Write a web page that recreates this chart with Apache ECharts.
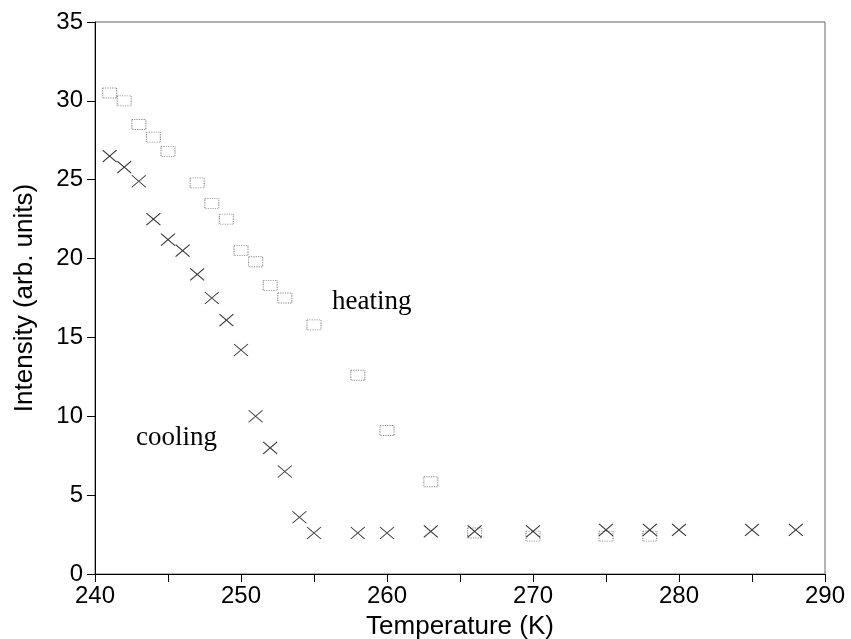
<!DOCTYPE html>
<html>
<head>
<meta charset="utf-8">
<script src="https://cdn.jsdelivr.net/npm/echarts@6/dist/echarts.min.js"></script>
<style>
    html, body { margin: 0; padding: 0; background: #fff; }
    #chart { width: 851px; height: 639px; }
</style>
</head>
<body>
<div id="chart"></div>
<script>
// heating run (squares)
var heatingT = [241, 242, 243, 244, 245, 247, 248, 249, 250, 251, 252, 253, 255, 258, 260, 263, 266, 270, 275, 278];
var heatingI = [30.5, 30.0, 28.5, 27.7, 26.8, 24.8, 23.5, 22.5, 20.5, 19.8, 18.3, 17.5, 15.8, 12.6, 9.1, 5.85, 2.6, 2.4, 2.4, 2.4];

// cooling run (crosses)
var coolingT = [241, 242, 243, 244, 245, 246, 247, 248, 249, 250, 251, 252, 253, 254, 255, 258, 260, 263, 266, 270, 275, 278, 280, 285, 288];
var coolingI = [26.5, 25.8, 24.9, 22.5, 21.2, 20.5, 19.0, 17.5, 16.1, 14.2, 10.0, 8.0, 6.5, 3.6, 2.6, 2.6, 2.6, 2.7, 2.7, 2.7, 2.8, 2.8, 2.8, 2.8, 2.8];

function pairs(xs, ys) {
    var out = [];
    for (var i = 0; i < xs.length; i++) {
        out.push([xs[i], ys[i]]);
    }
    return out;
}

var chart = echarts.init(document.getElementById('chart'));

var sansFont = '"Liberation Sans", Arial, sans-serif';
var serifFont = '"Liberation Serif", "Times New Roman", serif';

var option = {
    backgroundColor: '#fff',
    animation: false,
    grid: {
        left: 95,
        right: 26,
        top: 22,
        bottom: 65,
        outerBoundsMode: 'none',
        show: true,
        borderColor: '#666',
        borderWidth: 1
    },
    xAxis: {
        type: 'value',
        min: 240,
        max: 290,
        interval: 5,
        name: 'Temperature (K)',
        nameLocation: 'middle',
        nameGap: 40,
        nameTextStyle: {fontFamily: sansFont, fontSize: 26, color: '#000'},
        axisLine: {lineStyle: {color: '#000', width: 1}},
        axisTick: {show: true, inside: false, length: 8, lineStyle: {color: '#000'}},
        axisLabel: {
            fontFamily: sansFont,
            fontSize: 24,
            color: '#000',
            margin: 10,
            formatter: function (v) {
                return v % 10 === 0 ? String(v) : '';
            }
        },
        splitLine: {show: false}
    },
    yAxis: {
        type: 'value',
        min: 0,
        max: 35,
        interval: 5,
        name: 'Intensity (arb. units)',
        nameLocation: 'middle',
        nameGap: 57,
        nameTextStyle: {fontFamily: sansFont, fontSize: 26, color: '#000'},
        axisLine: {show: true, lineStyle: {color: '#000', width: 1}},
        axisTick: {show: true, inside: false, length: 8, lineStyle: {color: '#000'}},
        axisLabel: {fontFamily: sansFont, fontSize: 24, color: '#000', margin: 12},
        splitLine: {show: false}
    },
    graphic: [
        {
            type: 'text',
            left: 332,
            top: 288,
            style: {text: 'heating', font: '27px ' + serifFont, fill: '#000'}
        },
        {
            type: 'text',
            left: 136,
            top: 424,
            style: {text: 'cooling', font: '27px ' + serifFont, fill: '#000'}
        }
    ],
    series: [
        {
            name: 'heating',
            type: 'scatter',
            data: pairs(heatingT, heatingI),
            symbol: 'rect',
            symbolSize: [14, 10],
            itemStyle: {color: 'rgba(255,255,255,0)', borderColor: '#666', borderWidth: 1, borderType: 'dotted'}
        },
        {
            name: 'cooling',
            type: 'scatter',
            data: pairs(coolingT, coolingI),
            symbol: 'path://M0,0L14,12M14,0L0,12',
            symbolSize: [14, 12],
            itemStyle: {color: 'none', borderColor: '#000', borderWidth: 1}
        }
    ]
};

chart.setOption(option);
</script>
</body>
</html>
